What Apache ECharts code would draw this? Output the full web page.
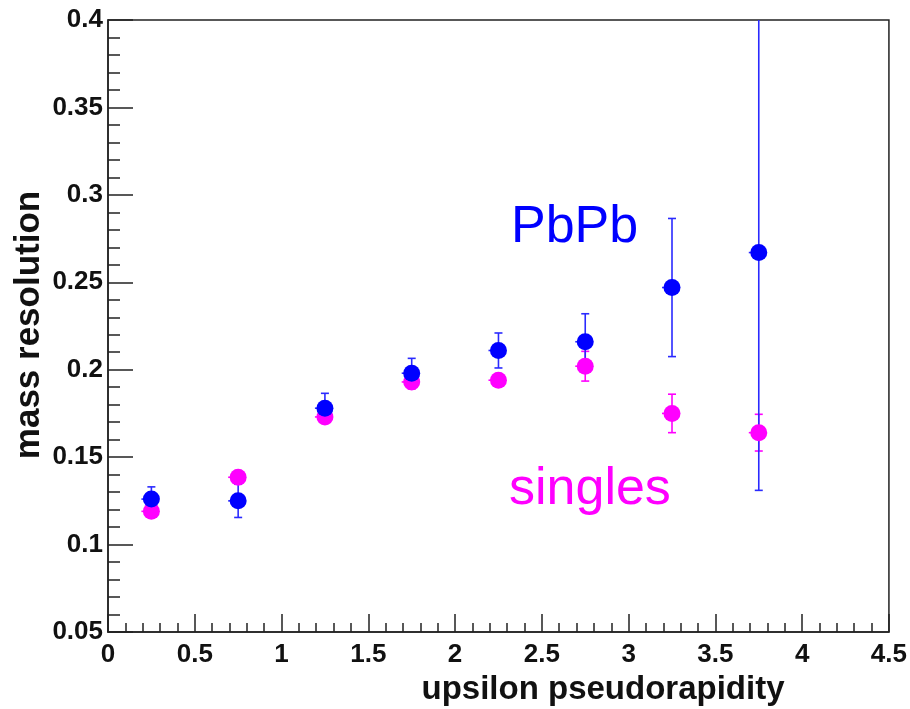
<!DOCTYPE html>
<html>
<head>
<meta charset="utf-8">
<script src="https://cdn.jsdelivr.net/npm/echarts@6/dist/echarts.min.js"></script>
<style>html,body{margin:0;padding:0;background:#fff;}#c{width:910px;height:709px;}</style>
</head>
<body>
<div id="c"></div>
<script>
const etaBins = [0.25, 0.75, 1.25, 1.75, 2.25, 2.75, 3.25, 3.75];
const pbpbRes = [0.126, 0.125, 0.178, 0.198, 0.211, 0.216, 0.247, 0.267];
const pbpbErr = [0.007, 0.0095, 0.0085, 0.0085, 0.010, 0.016, 0.0395, 0.136];
const singlesRes = [0.119, 0.1385, 0.173, 0.193, 0.194, 0.202, 0.175, 0.164];
const singlesErr = [0.003, 0.003, 0.003, 0.004, 0.003, 0.0085, 0.011, 0.0105];
const xTitle = 'upsilon pseudorapidity';
const yTitle = 'mass resolution';

const chart = echarts.init(document.getElementById('c'));
const fontFam = '"Liberation Sans", Arial, Helvetica, sans-serif';

function errData(vals, errs) {
  return etaBins.map((x, i) => [x, vals[i], vals[i] - errs[i], vals[i] + errs[i]]);
}
function errRender(color) {
  return function (params, api) {
    const c = api.coord([api.value(0), api.value(1)]);
    const lo = api.coord([api.value(0), api.value(2)]);
    const hi = api.coord([api.value(0), api.value(3)]);
    const st = { stroke: color, lineWidth: 1.6 };
    const cap = 4;
    return {
      type: 'group',
      children: [
        { type: 'line', shape: { x1: c[0], y1: lo[1], x2: c[0], y2: hi[1] }, style: st },
        { type: 'line', shape: { x1: c[0] - cap, y1: lo[1], x2: c[0] + cap, y2: lo[1] }, style: st },
        { type: 'line', shape: { x1: c[0] - cap, y1: hi[1], x2: c[0] + cap, y2: hi[1] }, style: st },
        { type: 'line', shape: { x1: c[0] - 10, y1: c[1], x2: c[0], y2: c[1] }, style: st }
      ]
    };
  };
}

const option = {
  animation: false,
  backgroundColor: '#fff',
  grid: { left: 108, right: 20, top: 20, bottom: 77, show: true, borderColor: '#222', borderWidth: 1.5, backgroundColor: 'transparent' },
  xAxis: {
    type: 'value', min: 0, max: 4.5, interval: 0.5,
    axisLine: { onZero: false, lineStyle: { color: '#222', width: 1.5 } },
    axisTick: { inside: true, length: 18, lineStyle: { color: '#222', width: 1.5 } },
    minorTick: { show: true, splitNumber: 5, length: 9, lineStyle: { color: '#222', width: 1.5 } },
    splitLine: { show: false },
    axisLabel: { color: '#111', fontSize: 26, fontWeight: 'bold', fontFamily: fontFam, margin: 10 }
  },
  yAxis: {
    type: 'value', min: 0.05, max: 0.4, interval: 0.05,
    axisLine: { onZero: false, lineStyle: { color: '#222', width: 1.5 } },
    axisTick: { inside: true, length: 25, lineStyle: { color: '#222', width: 1.5 } },
    minorTick: { show: true, splitNumber: 5, length: 12, lineStyle: { color: '#222', width: 1.5 } },
    splitLine: { show: false },
    axisLabel: { color: '#111', fontSize: 26, fontWeight: 'bold', fontFamily: fontFam, margin: 5,
      formatter: v => String(Math.round(v * 100) / 100) }
  },
  series: [
    { type: 'custom', data: errData(singlesRes, singlesErr), renderItem: errRender('#ff00ff'), clip: true, encode: { x: 0, y: [1, 2, 3] } },
    { type: 'scatter', data: etaBins.map((x, i) => [x, singlesRes[i]]), symbol: 'circle', symbolSize: 17, itemStyle: { color: '#ff00ff', opacity: 1 } },
    { type: 'custom', data: errData(pbpbRes, pbpbErr), renderItem: errRender('#2a2aff'), clip: true, encode: { x: 0, y: [1, 2, 3] } },
    { type: 'scatter', data: etaBins.map((x, i) => [x, pbpbRes[i]]), symbol: 'circle', symbolSize: 17, itemStyle: { color: '#0000ff', opacity: 1 } }
  ],
  graphic: [
    { type: 'text', x: 603, y: 690, style: { text: xTitle, font: 'bold 33px ' + fontFam, fill: '#111', textAlign: 'center', textVerticalAlign: 'middle' } },
    { type: 'text', x: 29, y: 325, rotation: Math.PI / 2, style: { text: yTitle, font: 'bold 35px ' + fontFam, fill: '#111', textAlign: 'center', textVerticalAlign: 'middle' } },
    { type: 'text', x: 511, y: 228, style: { text: 'PbPb', font: '52px ' + fontFam, fill: '#0000ff', textAlign: 'left', textVerticalAlign: 'middle' } },
    { type: 'text', x: 509, y: 490, style: { text: 'singles', font: '52px ' + fontFam, fill: '#ff00ff', textAlign: 'left', textVerticalAlign: 'middle' } }
  ]
};
chart.setOption(option);
</script>
</body>
</html>
